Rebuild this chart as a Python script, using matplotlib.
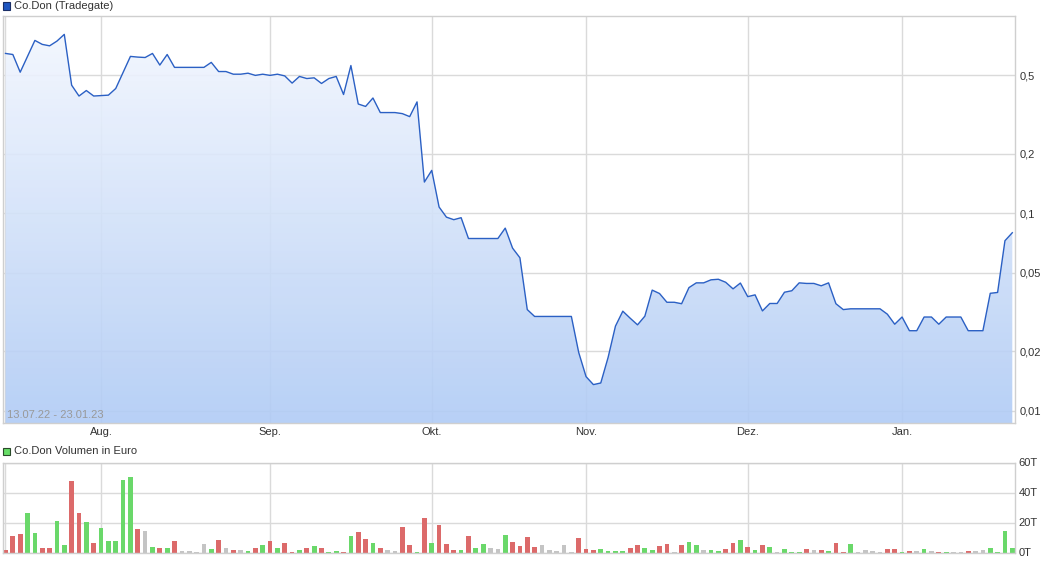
import matplotlib
matplotlib.use('Agg')
import matplotlib.pyplot as plt
import numpy as np
from matplotlib.patches import Polygon, Rectangle
from matplotlib.ticker import NullLocator

plt.rcParams['font.family'] = ['Liberation Sans', 'DejaVu Sans']

# --- data ---
# daily closing price in EUR, one value per trading day 13.07.22 - 23.01.23
price = [
    0.646, 0.638, 0.519, 0.624, 0.752, 0.718, 0.706, 0.746, 0.807, 0.446,
    0.393, 0.419, 0.393, 0.395, 0.397, 0.429, 0.517, 0.624, 0.619, 0.616,
    0.646, 0.564, 0.638, 0.549, 0.549, 0.549, 0.549, 0.549, 0.582, 0.523,
    0.523, 0.507, 0.507, 0.513, 0.500, 0.507, 0.500, 0.507, 0.497, 0.457,
    0.494, 0.482, 0.486, 0.455, 0.482, 0.494, 0.400, 0.561, 0.358, 0.348,
    0.384, 0.324, 0.324, 0.324, 0.320, 0.309, 0.367, 0.144, 0.165, 0.1076,
    0.0956, 0.0928, 0.095, 0.0745, 0.0745, 0.0745, 0.0745, 0.0745, 0.0841, 0.0666,
    0.0595, 0.0325, 0.030, 0.030, 0.030, 0.030, 0.030, 0.030, 0.0197, 0.01486,
    0.01354, 0.0138, 0.0186, 0.0268, 0.0319, 0.0294, 0.0272, 0.0301, 0.0408, 0.0392,
    0.0354, 0.0354, 0.0348, 0.042, 0.0444, 0.0444, 0.046, 0.0463, 0.0447, 0.0414,
    0.0443, 0.0378, 0.0386, 0.032, 0.0349, 0.0349, 0.0398, 0.0405, 0.0444, 0.0441,
    0.0441, 0.0429, 0.0444, 0.0348, 0.0325, 0.0328, 0.0328, 0.0328, 0.0328, 0.0328,
    0.0308, 0.0274, 0.0298, 0.0254, 0.0254, 0.0298, 0.0298, 0.0274, 0.0298, 0.0298,
    0.0298, 0.0254, 0.0254, 0.0254, 0.0393, 0.0397, 0.0726, 0.0797,
]

# daily turnover in thousand EUR
volume_t = [
    1.8, 11.2, 12.5, 26.6, 13.2, 3.1, 3.1, 21.3, 5.1, 47.4,
    26.6, 20.6, 6.5, 16.6, 7.8, 7.8, 48.1, 50.1, 15.9, 14.5,
    3.8, 3.1, 3.1, 7.8, 1.1, 1.1, 0.4, 5.8, 2.5, 8.5,
    3.1, 1.8, 1.8, 1.1, 3.1, 5.1, 7.8, 3.1, 6.5, 0.4,
    1.8, 3.1, 4.5, 3.1, 0.4, 1.1, 0.4, 11.2, 13.9, 9.2,
    6.5, 3.1, 1.8, 1.1, 17.2, 5.1, 0.4, 23.3, 6.5, 18.6,
    5.8, 1.8, 1.8, 11.2, 3.1, 5.8, 3.1, 2.5, 11.9, 7.2,
    4.5, 10.5, 3.8, 5.1, 1.8, 1.1, 5.1, 0.4, 9.8, 2.5,
    1.8, 2.5, 1.1, 1.1, 1.1, 3.1, 5.1, 3.1, 1.8, 4.5,
    5.8, 0.4, 5.1, 7.2, 5.1, 1.8, 1.8, 1.1, 2.5, 6.5,
    8.5, 3.8, 1.8, 5.1, 3.8, 0.4, 2.5, 0.4, 0.4, 2.5,
    1.8, 1.8, 1.1, 6.5, 0.4, 5.8, 0.4, 1.8, 1.1, 0.4,
    2.5, 2.5, 0.4, 1.1, 1.1, 2.5, 1.1, 0.4, 0.4, 0.4,
    0.4, 1.1, 1.1, 1.8, 3.1, 0.4, 14.5, 3.1,
]
# r = down day, g = up day, n = unchanged
volume_dir = list(
    "rrrggrrggr" "rgrgggggrn" "grgrnnnngr" "nrngrgrgrr" "grgrggrgrr"
    "grnnrrgrgr" "rrgrggnngr" "rr"
    "rnnnnnrrrg" "gggrrggrrn" "rggnggrrgr" "grgngggrnr" "grrgnnnnrr"
    "grngnrgnnr" "nngggg"
)

month_labels = ['Aug.', 'Sep.', 'Okt.', 'Nov.', 'Dez.', 'Jan.']
month_idx = [13, 36, 58, 79, 101, 122]
price_ticks = [0.01, 0.02, 0.05, 0.1, 0.2, 0.5]
price_tick_labels = ['0,01', '0,02', '0,05', '0,1', '0,2', '0,5']
vol_ticks = [0, 20000, 40000, 60000]
vol_tick_labels = ['0T', '20T', '40T', '60T']
date_range = '13.07.22 - 23.01.23'

# --- layout (pixel boxes of the 1057x562 image) ---
W, H = 1057, 562
GRID = '#dadada'
TXT = '#333333'
dir_colors = {'r': '#dc6a6a', 'g': '#6ad86a', 'n': '#c4c4c4'}


def box(l, t, r, b):
    return [l / W, 1 - b / H, (r - l) / W, (b - t) / H]


def px(x, y):
    return x / W, 1 - y / H


fig = plt.figure(figsize=(W / 100, H / 100), dpi=100)
ax = fig.add_axes(box(3, 16, 1014.5, 423))
axv = fig.add_axes(box(3, 462.5, 1014.5, 552.5))

x_price = np.arange(len(price))
x_vol = np.arange(len(volume_t))
xlim = (-0.34, 137.3)

# price panel
ax.set_yscale('log')
ax.set_xlim(*xlim)
ax.set_ylim(0.00865, 1.0)
ax.set_autoscale_on(False)

for x in [0] + month_idx:
    ax.axvline(x, color=GRID, lw=1, zorder=0)
for y in price_ticks:
    ax.axhline(y, color=GRID, lw=1, zorder=0)

# gradient area below the line
alpha = 0.9
top_c = np.array([0.961, 0.973, 0.998])
bot_c = np.array([0.689, 0.796, 0.961])
t = np.linspace(0, 1, 256)[:, None]
grad = np.zeros((256, 1, 4))
grad[:, 0, :3] = top_c * (1 - t) + bot_c * t
grad[:, 0, 3] = alpha
im = ax.imshow(grad, extent=[0, 1, 0, 1], transform=ax.transAxes,
               aspect='auto', zorder=1, interpolation='bilinear')
verts = [(0, 0.005)] + list(zip(x_price, price)) + [(x_price[-1], 0.005)]
poly = Polygon(verts, closed=True, facecolor='none', edgecolor='none')
ax.add_patch(poly)
im.set_clip_path(poly)

ax.plot(x_price, price, color='#2b60c4', lw=1.0, zorder=3)

ax.set_yticks(price_ticks)
ax.set_yticklabels(price_tick_labels)
ax.yaxis.set_minor_locator(NullLocator())
ax.yaxis.tick_right()
ax.set_xticks(month_idx)
ax.set_xticklabels(month_labels)
ax.tick_params(axis='y', length=0, pad=4, labelsize=8, labelcolor=TXT)
ax.tick_params(axis='x', length=0, pad=3, labelsize=8, labelcolor=TXT)
for sp in ax.spines.values():
    sp.set_color('#cfcfcf')
    sp.set_linewidth(1)

# volume panel
axv.set_xlim(*xlim)
axv.set_ylim(0, 60000)
for x in [0] + month_idx:
    axv.axvline(x, color=GRID, lw=1, zorder=0)
for y in vol_ticks:
    axv.axhline(y, color=GRID, lw=1, zorder=0)
axv.bar(x_vol, np.array(volume_t) * 1000, width=0.64,
        color=[dir_colors[c] for c in volume_dir], zorder=2)
axv.set_yticks(vol_ticks)
axv.set_yticklabels(vol_tick_labels)
axv.yaxis.tick_right()
axv.set_xticks([])
axv.tick_params(axis='y', length=0, pad=3, labelsize=8, labelcolor=TXT)
for sp in axv.spines.values():
    sp.set_color('#cfcfcf')
    sp.set_linewidth(1)

# header labels
fig.add_artist(Rectangle(px(3, 9.5), 7 / W, 7 / H, transform=fig.transFigure,
                         facecolor='#1f56c0', edgecolor='#1a2e66', lw=0.8))
fig.text(*px(14, 6), 'Co.Don (Tradegate)', fontsize=8, color=TXT, va='center')
fig.add_artist(Rectangle(px(3, 454.5), 7 / W, 7 / H, transform=fig.transFigure,
                         facecolor='#66dd66', edgecolor='#2a4a2a', lw=0.8))
fig.text(*px(14, 451), 'Co.Don Volumen in Euro', fontsize=8, color=TXT, va='center')
fig.text(*px(7, 415), date_range, fontsize=8, color='#999999', va='center')

fig.savefig('out.png', dpi=100)
